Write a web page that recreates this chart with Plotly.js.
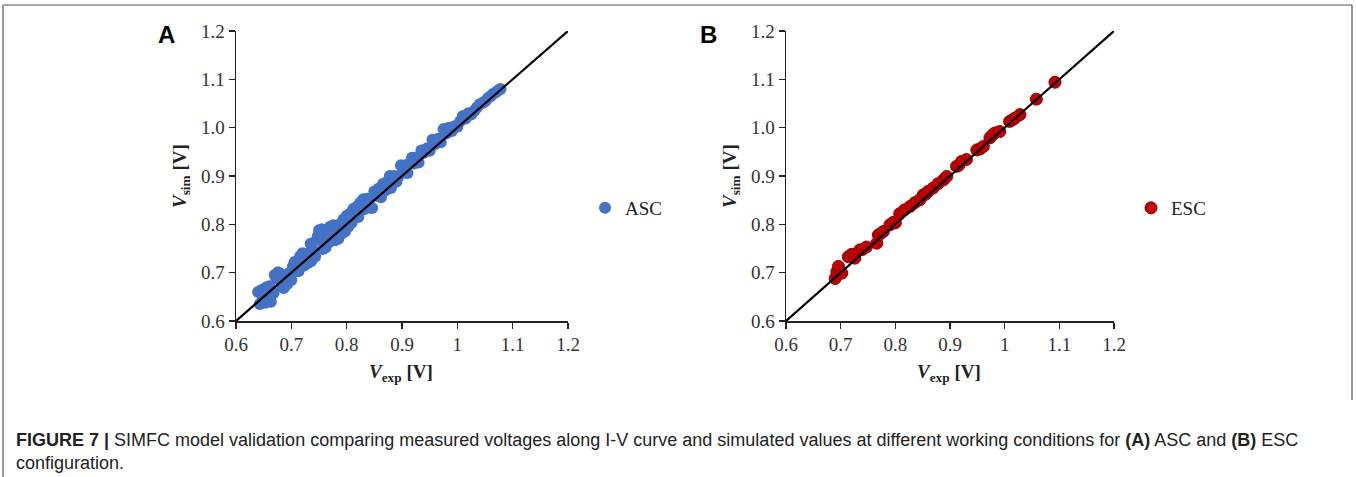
<!DOCTYPE html>
<html>
<head>
<meta charset="utf-8">
<script src="https://cdn.plot.ly/plotly-3.0.1.min.js"></script>
<style>html,body{margin:0;padding:0;background:#fff;}#chart{width:1356px;height:477px;}</style>
</head>
<body>
<div id="chart"></div>
<script>
// ---- Data ----
const ascX = [0.640,0.643,0.646,0.648,0.650,0.652,0.655,0.657,0.660,0.662,0.665,0.668,0.670,0.673,0.676,0.680,0.683,0.686,0.690,0.693,0.697,0.700,0.703,0.706,0.710,0.713,0.716,0.720,0.723,0.726,0.730,0.733,0.736,0.740,0.743,0.746,0.748,0.750,0.752,0.755,0.757,0.760,0.762,0.765,0.768,0.770,0.773,0.776,0.779,0.782,0.785,0.788,0.791,0.794,0.797,0.800,0.803,0.806,0.809,0.812,0.815,0.818,0.821,0.824,0.827,0.830,0.834,0.838,0.842,0.846,0.850,0.854,0.858,0.862,0.866,0.870,0.874,0.878,0.882,0.886,0.890,0.894,0.898,0.902,0.906,0.910,0.914,0.918,0.922,0.926,0.930,0.935,0.940,0.945,0.950,0.955,0.960,0.965,0.970,0.975,0.980,0.985,0.990,0.995,1.000,1.005,1.010,1.015,1.020,1.025,1.030,1.035,1.040,1.045,1.050,1.055,1.060,1.065,1.070,1.075,1.078,0.654,0.663,0.692,0.735,0.780,0.840,0.880];
const ascY = [0.660,0.635,0.664,0.643,0.660,0.642,0.670,0.645,0.672,0.650,0.660,0.658,0.695,0.688,0.701,0.698,0.675,0.668,0.690,0.683,0.700,0.685,0.713,0.722,0.715,0.703,0.734,0.740,0.715,0.738,0.720,0.741,0.724,0.745,0.733,0.768,0.776,0.788,0.772,0.790,0.749,0.782,0.752,0.785,0.763,0.795,0.778,0.798,0.767,0.797,0.770,0.800,0.781,0.810,0.785,0.818,0.795,0.822,0.803,0.832,0.815,0.836,0.815,0.844,0.829,0.852,0.832,0.853,0.837,0.834,0.868,0.859,0.874,0.856,0.884,0.870,0.888,0.900,0.886,0.900,0.888,0.900,0.922,0.906,0.922,0.906,0.926,0.938,0.926,0.938,0.928,0.953,0.948,0.957,0.952,0.975,0.966,0.977,0.970,0.997,0.988,1.000,0.993,1.003,1.002,1.013,1.024,1.019,1.030,1.027,1.034,1.041,1.048,1.051,1.054,1.061,1.065,1.070,1.074,1.078,1.080,0.638,0.640,0.676,0.760,0.790,0.852,0.875];

const escX = [0.690,0.693,0.696,0.702,0.714,0.720,0.726,0.735,0.740,0.747,0.766,0.769,0.772,0.778,0.790,0.796,0.800,0.808,0.817,0.827,0.836,0.845,0.851,0.855,0.860,0.869,0.878,0.888,0.894,0.912,0.916,0.921,0.930,0.949,0.955,0.961,0.973,0.978,0.982,0.991,1.009,1.014,1.019,1.028,1.058,1.092];
const escY = [0.688,0.702,0.713,0.699,0.733,0.738,0.730,0.747,0.748,0.753,0.761,0.778,0.780,0.785,0.799,0.804,0.803,0.822,0.830,0.837,0.845,0.851,0.861,0.862,0.868,0.875,0.884,0.892,0.899,0.920,0.922,0.930,0.934,0.954,0.956,0.961,0.979,0.985,0.989,0.992,1.013,1.016,1.020,1.027,1.059,1.094];

const diagX = [0.6, 1.2];
const diagY = [0.6, 1.2];

const tickVals = [0.6,0.7,0.8,0.9,1.0,1.1,1.2];
const xTickText = ["0.6","0.7","0.8","0.9","1","1.1","1.2"];
const yTickText = ["0.6","0.7","0.8","0.9","1.0","1.1","1.2"];

// ---- Layout helpers ----
const W = 1356, H = 477;
const px = v => v / W;
const py = v => 1 - v / H;

const serif = "Liberation Serif, Times New Roman, serif";
const sans = "Liberation Sans, Arial, Helvetica, sans-serif";

function axis(domain, ticktext, anchor) {
  return {
    domain: domain, range: [0.6, 1.2], anchor: anchor,
    tickmode: 'array', tickvals: tickVals, ticktext: ticktext,
    ticks: 'outside', ticklen: 6, tickwidth: 1.3, tickcolor: '#222',
    showline: true, linecolor: '#222', linewidth: 1.5,
    showgrid: false, zeroline: false, fixedrange: true,
    tickfont: {family: serif, size: 19, color: '#333'}
  };
}

const traces = [
  {x: ascX, y: ascY, xaxis: 'x', yaxis: 'y', type: 'scatter', mode: 'markers', name: 'ASC',
   marker: {color: '#4472C4', size: 12, line: {width: 0}}, legend: 'legend'},
  {x: diagX, y: diagY, xaxis: 'x', yaxis: 'y', type: 'scatter', mode: 'lines',
   line: {color: '#000', width: 2.2}, showlegend: false, hoverinfo: 'skip'},
  {x: escX, y: escY, xaxis: 'x2', yaxis: 'y2', type: 'scatter', mode: 'markers', name: 'ESC',
   marker: {color: '#C00000', size: 12, line: {width: 1, color: '#8B0000'}}, legend: 'legend2'},
  {x: diagX, y: diagY, xaxis: 'x2', yaxis: 'y2', type: 'scatter', mode: 'lines',
   line: {color: '#000', width: 2.2}, showlegend: false, hoverinfo: 'skip'}
];

const yDom = [py(321), py(31)];

function note(text, x, y, size, family, extra) {
  return Object.assign({text: text, xref: 'paper', yref: 'paper', x: px(x), y: py(y),
    xanchor: 'center', yanchor: 'middle', showarrow: false,
    font: {family: family, size: size, color: '#222'}}, extra || {});
}

const layout = {
  width: W, height: H,
  margin: {l: 0, r: 0, t: 0, b: 0},
  paper_bgcolor: '#fff', plot_bgcolor: '#fff',
  showlegend: true,
  xaxis: axis([px(236), px(568)], xTickText, 'y'),
  yaxis: axis(yDom, yTickText, 'x'),
  xaxis2: axis([px(786), px(1114)], xTickText, 'y2'),
  yaxis2: axis(yDom, yTickText, 'x2'),
  legend: {x: px(585), y: py(208), xanchor: 'left', yanchor: 'middle', bgcolor: 'rgba(0,0,0,0)',
           font: {family: serif, size: 19, color: '#222'}},
  legend2: {x: px(1131), y: py(208), xanchor: 'left', yanchor: 'middle', bgcolor: 'rgba(0,0,0,0)',
            font: {family: serif, size: 19, color: '#222'}},
  shapes: [
    {type: 'line', xref: 'paper', yref: 'paper', x0: px(3), x1: px(1352), y0: py(5), y1: py(5), line: {color: '#555', width: 1.2}},
    {type: 'line', xref: 'paper', yref: 'paper', x0: px(3), x1: px(3), y0: py(5), y1: 0, line: {color: '#555', width: 1.2}},
    {type: 'line', xref: 'paper', yref: 'paper', x0: px(1352), x1: px(1352), y0: py(5), y1: py(400), line: {color: '#555', width: 1.2}}
  ],
  annotations: [
    note('<b>A</b>', 166, 34, 24, sans, {font: {family: sans, size: 24, color: '#000'}}),
    note('<b>B</b>', 708, 34, 24, sans, {font: {family: sans, size: 24, color: '#000'}}),
    note('<b><i>V</i><sub>exp</sub> [V]</b>', 401, 373, 19, serif),
    note('<b><i>V</i><sub>exp</sub> [V]</b>', 949, 373, 19, serif),
    note('<b><i>V</i><sub>sim</sub> [V]</b>', 181, 176, 19, serif, {textangle: -90}),
    note('<b><i>V</i><sub>sim</sub> [V]</b>', 731, 176, 19, serif, {textangle: -90}),
    note('<b>FIGURE 7 |</b> SIMFC model validation comparing measured voltages along I-V curve and simulated values at different working conditions for <b>(A)</b> ASC and <b>(B)</b> ESC',
         14, 440, 18, sans, {xanchor: 'left'}),
    note('configuration.', 14, 463, 18, sans, {xanchor: 'left'})
  ]
};

Plotly.newPlot('chart', traces, layout, {displayModeBar: false, staticPlot: true});
</script>
</body>
</html>
